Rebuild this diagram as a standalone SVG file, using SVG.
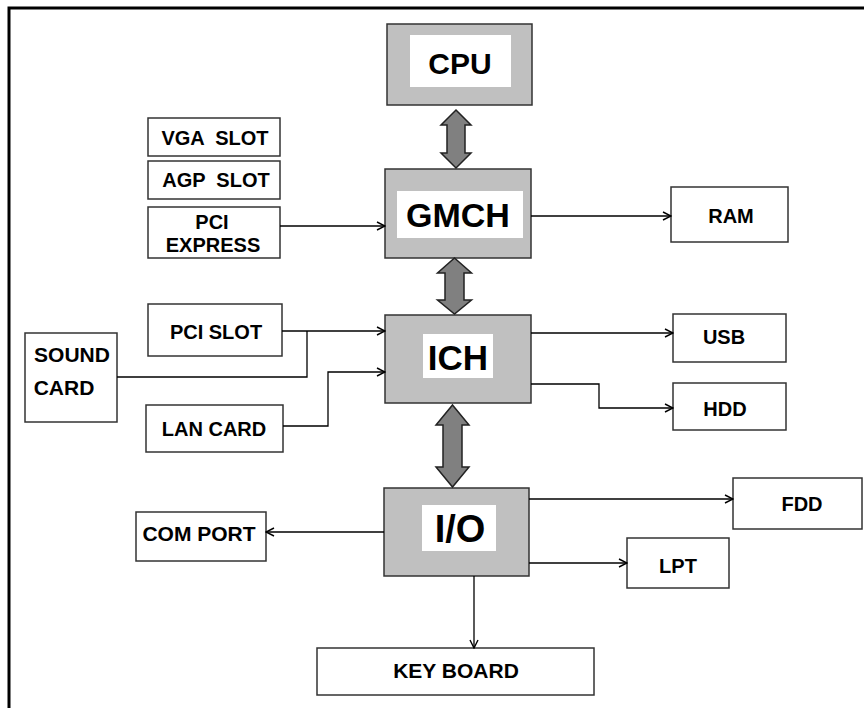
<svg xmlns="http://www.w3.org/2000/svg" width="864" height="708" viewBox="0 0 864 708">
  <defs>
    <marker id="open" viewBox="0 0 10 10" refX="9" refY="5" markerWidth="10" markerHeight="10" markerUnits="userSpaceOnUse" orient="auto">
      <path d="M1,1 L9,5 L1,9" fill="none" stroke="#000" stroke-width="1.4"/>
    </marker>
  </defs>
  <style>
    .box { fill: #fff; stroke: #333; stroke-width: 1.5; }
    .chip { fill: #c0c0c0; stroke: #333; stroke-width: 1.5; }
    .inner { fill: #fff; }
    .lbl { font-family: "Liberation Sans", Arial, sans-serif; font-weight: bold; font-size: 20px; fill: #000; text-anchor: middle; }
    .big { font-size: 34px; }
    .wire { fill: none; stroke: #000; stroke-width: 1.3; }
    .bus { fill: #808080; stroke: #222; stroke-width: 1.5; stroke-linejoin: miter; }
  </style>

  <rect width="864" height="708" fill="#fff"/>
  <!-- outer frame -->
  <path d="M9,708 L9,8 L864,8" fill="none" stroke="#000" stroke-width="3"/>

  <!-- chips -->
  <g id="cpu">
    <rect class="chip" x="387" y="24" width="145" height="81"/>
    <rect class="inner" x="410" y="35" width="101" height="52"/>
    <text class="lbl" x="460" y="74" style="font-size:30px">CPU</text>
  </g>
  <g id="gmch">
    <rect class="chip" x="385" y="169" width="146" height="89"/>
    <rect class="inner" x="397" y="191" width="126" height="47"/>
    <text class="lbl big" x="458" y="227">GMCH</text>
  </g>
  <g id="ich">
    <rect class="chip" x="385" y="315" width="146" height="88"/>
    <rect class="inner" x="423" y="334" width="70" height="44"/>
    <text class="lbl" x="458" y="370" style="font-size:35px">ICH</text>
  </g>
  <g id="io">
    <rect class="chip" x="384" y="488" width="145" height="88"/>
    <rect class="inner" x="422" y="505" width="74" height="46"/>
    <text class="lbl" x="460" y="542" style="font-size:38px">I/O</text>
  </g>

  <!-- peripheral boxes -->
  <g id="vga-slot">
    <rect class="box" x="148" y="118" width="132" height="38"/>
    <text class="lbl" x="215" y="145" xml:space="preserve">VGA  SLOT</text>
  </g>
  <g id="agp-slot">
    <rect class="box" x="148" y="161" width="132" height="38"/>
    <text class="lbl" x="216" y="187" xml:space="preserve">AGP  SLOT</text>
  </g>
  <g id="pci-express">
    <rect class="box" x="148" y="207" width="132" height="51"/>
    <text class="lbl" x="212" y="229">PCI</text>
    <text class="lbl" x="213" y="252">EXPRESS</text>
  </g>
  <g id="ram">
    <rect class="box" x="671" y="187" width="117" height="55"/>
    <text class="lbl" x="731" y="223">RAM</text>
  </g>
  <g id="pci-slot">
    <rect class="box" x="148" y="304" width="134" height="52"/>
    <text class="lbl" x="216" y="339">PCI SLOT</text>
  </g>
  <g id="sound-card">
    <rect class="box" x="25" y="333" width="92" height="89"/>
    <text class="lbl" x="72" y="362" style="font-size:21px">SOUND</text>
    <text class="lbl" x="64" y="395" style="font-size:21px">CARD</text>
  </g>
  <g id="lan-card">
    <rect class="box" x="146" y="405" width="137" height="47"/>
    <text class="lbl" x="214" y="436">LAN CARD</text>
  </g>
  <g id="usb">
    <rect class="box" x="673" y="314" width="113" height="48"/>
    <text class="lbl" x="724" y="344">USB</text>
  </g>
  <g id="hdd">
    <rect class="box" x="673" y="383" width="113" height="47"/>
    <text class="lbl" x="725" y="416">HDD</text>
  </g>
  <g id="com-port">
    <rect class="box" x="136" y="512" width="130" height="49"/>
    <text class="lbl" x="199" y="541" style="font-size:21px">COM PORT</text>
  </g>
  <g id="fdd">
    <rect class="box" x="733" y="478" width="129" height="51"/>
    <text class="lbl" x="802" y="511">FDD</text>
  </g>
  <g id="lpt">
    <rect class="box" x="627" y="538" width="102" height="50"/>
    <text class="lbl" x="678" y="573">LPT</text>
  </g>
  <g id="keyboard">
    <rect class="box" x="317" y="648" width="277" height="47"/>
    <text class="lbl" x="456" y="678" style="font-size:21px">KEY BOARD</text>
  </g>

  <!-- connectors -->
  <g id="connectors">
    <!-- bidirectional buses -->
    <polygon class="bus" points="456,110 471,125 465,125 465,153 471,153 456,168 441,153 447,153 447,125 441,125"/>
    <polygon class="bus" points="454.5,258 471.5,273 464,273 464,300 471.5,300 454.5,314 437.5,300 445,300 445,273 437.5,273"/>
    <polygon class="bus" points="452.5,405 469,425 462,425 462,467 469,467 452.5,487 436,467 443,467 443,425 436,425"/>

    <path class="wire" d="M280,226 H385" marker-end="url(#open)"/>
    <path class="wire" d="M531,216 H671" marker-end="url(#open)"/>
    <path class="wire" d="M282,331 H385" marker-end="url(#open)"/>
    <path class="wire" d="M117,377 H307 V331"/>
    <path class="wire" d="M283,426 H328 V372 H385" marker-end="url(#open)"/>
    <path class="wire" d="M531,333 H673" marker-end="url(#open)"/>
    <path class="wire" d="M531,384 H599 V408 H673" marker-end="url(#open)"/>
    <path class="wire" d="M384,532 H266" marker-end="url(#open)"/>
    <path class="wire" d="M529,499 H733" marker-end="url(#open)"/>
    <path class="wire" d="M529,563 H627" marker-end="url(#open)"/>
    <path class="wire" d="M474,576 V648" marker-end="url(#open)"/>
  </g>
</svg>
